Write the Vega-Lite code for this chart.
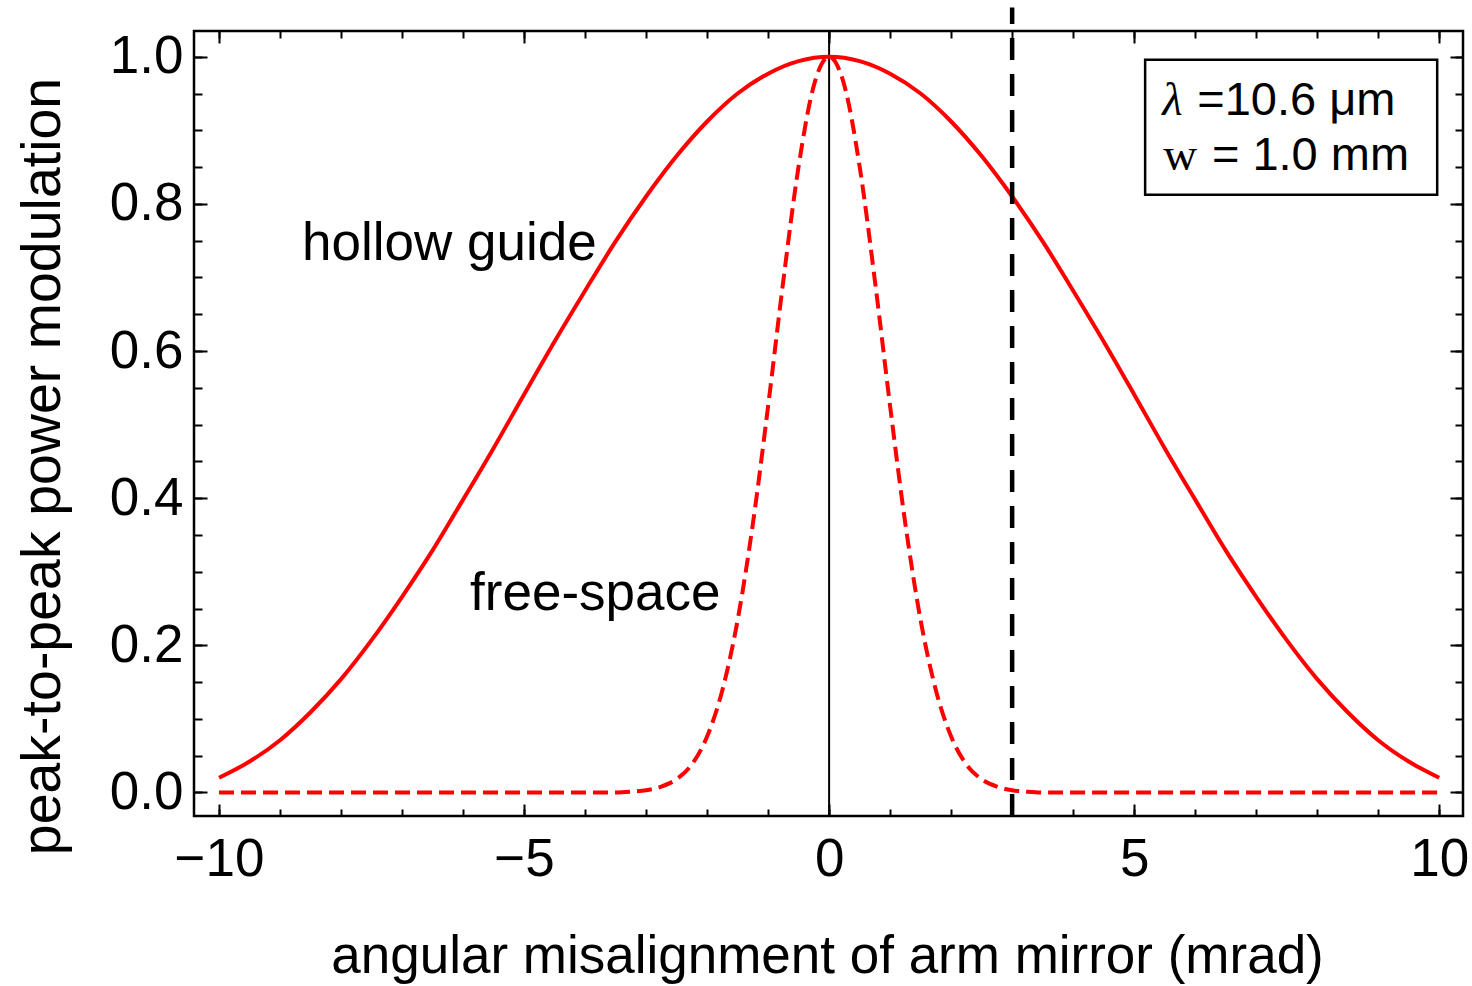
{
  "$schema": "https://vega.github.io/schema/vega-lite/v6.json",
  "width": 1269,
  "height": 785,
  "autosize": "none",
  "padding": {"left": 194, "top": 31, "right": 9, "bottom": 170},
  "background": "white",
  "datasets": {
    "hollow": [
      {"x": -10, "y": 0.020}, {"x": -9.5, "y": 0.042}, {"x": -9, "y": 0.071}, {"x": -8.5, "y": 0.109},
      {"x": -8, "y": 0.154}, {"x": -7.5, "y": 0.207}, {"x": -7, "y": 0.266}, {"x": -6.5, "y": 0.329},
      {"x": -6, "y": 0.398}, {"x": -5.5, "y": 0.468}, {"x": -5, "y": 0.541}, {"x": -4.5, "y": 0.613},
      {"x": -4, "y": 0.682}, {"x": -3.5, "y": 0.749}, {"x": -3, "y": 0.810}, {"x": -2.5, "y": 0.865},
      {"x": -2, "y": 0.912}, {"x": -1.5, "y": 0.950}, {"x": -1, "y": 0.977}, {"x": -0.5, "y": 0.994},
      {"x": 0, "y": 1.0},
      {"x": 0.5, "y": 0.994}, {"x": 1, "y": 0.977}, {"x": 1.5, "y": 0.950}, {"x": 2, "y": 0.912},
      {"x": 2.5, "y": 0.865}, {"x": 3, "y": 0.810}, {"x": 3.5, "y": 0.749}, {"x": 4, "y": 0.682},
      {"x": 4.5, "y": 0.613}, {"x": 5, "y": 0.541}, {"x": 5.5, "y": 0.468}, {"x": 6, "y": 0.398},
      {"x": 6.5, "y": 0.329}, {"x": 7, "y": 0.266}, {"x": 7.5, "y": 0.207}, {"x": 8, "y": 0.154},
      {"x": 8.5, "y": 0.109}, {"x": 9, "y": 0.071}, {"x": 9.5, "y": 0.042}, {"x": 10, "y": 0.020}
    ],
    "free": [
      {"x": -10, "y": 0}, {"x": -9, "y": 0}, {"x": -8, "y": 0}, {"x": -7, "y": 0}, {"x": -6, "y": 0},
      {"x": -5, "y": 0}, {"x": -4, "y": 0}, {"x": -3.5, "y": 0}, {"x": -3.25, "y": 0.001},
      {"x": -3, "y": 0.003}, {"x": -2.75, "y": 0.008}, {"x": -2.5, "y": 0.018}, {"x": -2.25, "y": 0.038},
      {"x": -2, "y": 0.076}, {"x": -1.75, "y": 0.139}, {"x": -1.5, "y": 0.234}, {"x": -1.25, "y": 0.365},
      {"x": -1, "y": 0.525}, {"x": -0.75, "y": 0.696}, {"x": -0.5, "y": 0.851}, {"x": -0.25, "y": 0.961},
      {"x": 0, "y": 1.0},
      {"x": 0.25, "y": 0.961}, {"x": 0.5, "y": 0.851}, {"x": 0.75, "y": 0.696}, {"x": 1, "y": 0.525},
      {"x": 1.25, "y": 0.365}, {"x": 1.5, "y": 0.234}, {"x": 1.75, "y": 0.139}, {"x": 2, "y": 0.076},
      {"x": 2.25, "y": 0.038}, {"x": 2.5, "y": 0.018}, {"x": 2.75, "y": 0.008}, {"x": 3, "y": 0.003},
      {"x": 3.25, "y": 0.001}, {"x": 3.5, "y": 0}, {"x": 4, "y": 0}, {"x": 5, "y": 0}, {"x": 6, "y": 0},
      {"x": 7, "y": 0}, {"x": 8, "y": 0}, {"x": 9, "y": 0}, {"x": 10, "y": 0}
    ]
  },
  "layer": [
    {
      "data": {"values": [{"x": 0, "y": -0.032, "y2": 1.035}]},
      "mark": {"type": "rule", "color": "black", "strokeWidth": 2},
      "encoding": {
        "x": {"field": "x", "type": "quantitative", "scale": {"domain": [-10.41, 10.39], "nice": false, "zero": false},
              "axis": {"orient": "top", "values": [-10,-9,-8,-7,-6,-5,-4,-3,-2,-1,0,1,2,3,4,5,6,7,8,9,10], "tickSize": -7, "labels": false, "title": null}},
        "y": {"field": "y", "type": "quantitative", "scale": {"domain": [-0.032, 1.035], "nice": false, "zero": false},
              "axis": {"orient": "right", "values": [0,0.05,0.1,0.15,0.2,0.25,0.3,0.35,0.4,0.45,0.5,0.55,0.6,0.65,0.7,0.75,0.8,0.85,0.9,0.95,1.0], "tickSize": -8, "labels": false, "title": null}},
        "y2": {"field": "y2"}
      }
    },
    {
      "data": {"name": "hollow"},
      "mark": {"type": "line", "color": "#ff0000", "strokeWidth": 4, "interpolate": "monotone"},
      "encoding": {
        "x": {"field": "x", "type": "quantitative", "scale": {"domain": [-10.41, 10.39], "nice": false, "zero": false},
              "axis": {"orient": "bottom", "values": [-10, -5, 0, 5, 10], "tickSize": -12, "labelPadding": 29, "labelFlush": false, "labelOverlap": false,
                       "title": "angular misalignment of arm mirror (mrad)", "titleX": 633, "titleY": 156, "titleBaseline": "alphabetic", "titleAlign": "center"}},
        "y": {"field": "y", "type": "quantitative", "scale": {"domain": [-0.032, 1.035], "nice": false, "zero": false},
              "axis": {"orient": "left", "values": [0, 0.2, 0.4, 0.6, 0.8, 1.0], "format": ".1f", "tickSize": -13, "labelPadding": 24, "labelFlush": false, "labelOverlap": false,
                       "title": "peak-to-peak power modulation", "titleFontSize": 55.5, "titleX": -135, "titleY": 435, "titleAngle": -90, "titleBaseline": "alphabetic", "titleAlign": "center"}}
      }
    },
    {
      "data": {"name": "free"},
      "mark": {"type": "line", "color": "#ff0000", "strokeWidth": 4, "strokeDash": [15, 7], "interpolate": "monotone"},
      "encoding": {
        "x": {"field": "x", "type": "quantitative", "scale": {"domain": [-10.41, 10.39], "nice": false, "zero": false},
              "axis": {"orient": "bottom", "values": [-10,-9,-8,-7,-6,-5,-4,-3,-2,-1,0,1,2,3,4,5,6,7,8,9,10], "tickSize": -7, "labels": false, "title": null}},
        "y": {"field": "y", "type": "quantitative", "scale": {"domain": [-0.032, 1.035], "nice": false, "zero": false},
              "axis": {"orient": "left", "values": [0,0.05,0.1,0.15,0.2,0.25,0.3,0.35,0.4,0.45,0.5,0.55,0.6,0.65,0.7,0.75,0.8,0.85,0.9,0.95,1.0], "tickSize": -8, "labels": false, "title": null}}
      }
    },
    {
      "data": {"values": [{"x": 3, "y": -0.032, "y2": 1.067}]},
      "mark": {"type": "rule", "color": "black", "strokeWidth": 4.5, "strokeDash": [22, 14], "clip": false},
      "encoding": {
        "x": {"field": "x", "type": "quantitative", "scale": {"domain": [-10.41, 10.39], "nice": false, "zero": false},
              "axis": {"orient": "top", "values": [-10, -5, 0, 5, 10], "tickSize": -12, "labels": false, "title": null}},
        "y": {"field": "y", "type": "quantitative", "scale": {"domain": [-0.032, 1.035], "nice": false, "zero": false},
              "axis": {"orient": "right", "values": [0, 0.2, 0.4, 0.6, 0.8, 1.0], "tickSize": -13, "labels": false, "title": null}},
        "y2": {"field": "y2"}
      }
    },
    {
      "data": {"values": [{"x": 5.18, "x2": 9.967, "y": 0.8125, "y2": 0.996}]},
      "mark": {"type": "rect", "fill": "white", "stroke": "black", "strokeWidth": 2.5},
      "encoding": {
        "x": {"field": "x", "type": "quantitative", "axis": null},
        "x2": {"field": "x2"},
        "y": {"field": "y", "type": "quantitative", "axis": null},
        "y2": {"field": "y2"}
      }
    },
    {
      "data": {"values": [
        {"label": "hollow guide", "x": -8.64, "y": 0.724},
        {"label": "free-space", "x": -5.885, "y": 0.2486},
        {"label": "=10.6 μm", "x": 6.033, "y": 0.9212},
        {"label": "= 1.0 mm", "x": 6.274, "y": 0.8465}
      ]},
      "mark": {"type": "text", "font": "Liberation Sans", "fontSize": 53, "align": "left", "baseline": "alphabetic", "color": "black"},
      "encoding": {
        "x": {"field": "x", "type": "quantitative", "axis": null},
        "y": {"field": "y", "type": "quantitative", "axis": null},
        "text": {"field": "label"},
        "size": {"condition": {"test": "datum.x > 5", "value": 47}, "value": 53}
      }
    },
    {
      "data": {"values": [{"label": "λ", "x": 5.459, "y": 0.9212}]},
      "mark": {"type": "text", "font": "Liberation Serif", "fontStyle": "italic", "fontSize": 47, "align": "left", "baseline": "alphabetic", "color": "black"},
      "encoding": {
        "x": {"field": "x", "type": "quantitative", "axis": null},
        "y": {"field": "y", "type": "quantitative", "axis": null},
        "text": {"field": "label"}
      }
    },
    {
      "data": {"values": [{"label": "w", "x": 5.475, "y": 0.8465}]},
      "mark": {"type": "text", "font": "Liberation Serif", "fontSize": 47, "align": "left", "baseline": "alphabetic", "color": "black"},
      "encoding": {
        "x": {"field": "x", "type": "quantitative", "axis": null},
        "y": {"field": "y", "type": "quantitative", "axis": null},
        "text": {"field": "label"}
      }
    }
  ],
  "resolve": {"axis": {"x": "independent", "y": "independent"}},
  "config": {
    "view": {"stroke": "black", "strokeWidth": 2.5},
    "axis": {
      "domain": false, "grid": false, "tickColor": "black", "tickWidth": 2,
      "labelFont": "Liberation Sans", "labelFontSize": 53, "labelColor": "black",
      "titleFont": "Liberation Sans", "titleFontSize": 53, "titleColor": "black", "titleFontWeight": "normal"
    }
  }
}
